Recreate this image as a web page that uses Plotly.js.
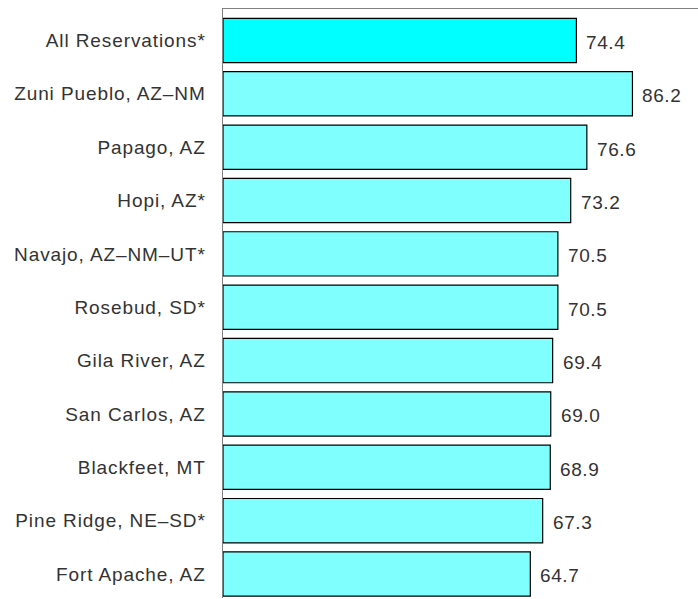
<!DOCTYPE html>
<html><head><meta charset="utf-8">
<script src="https://cdn.plot.ly/plotly-3.0.1.min.js"></script>
<style>
html,body{margin:0;padding:0;background:#fff}
.ytick text{letter-spacing:0.9px}
.annotation-text{letter-spacing:0.6px}
</style>
</head><body>
<div id="chart" style="width:698px;height:599px"></div>
<script>
var categories = ["All Reservations*","Zuni Pueblo, AZ\u2013NM","Papago, AZ","Hopi, AZ*","Navajo, AZ\u2013NM\u2013UT*","Rosebud, SD*","Gila River, AZ","San Carlos, AZ","Blackfeet, MT","Pine Ridge, NE\u2013SD*","Fort Apache, AZ"];
var values = [74.4, 86.2, 76.6, 73.2, 70.5, 70.5, 69.4, 69.0, 68.9, 67.3, 64.7];
var valueLabels = ["74.4","86.2","76.6","73.2","70.5","70.5","69.4","69.0","68.9","67.3","64.7"];
var colors = values.map(function(v,i){ return i===0 ? "#00FFFF" : "#80FFFF"; });

var trace = {
  type: "bar", orientation: "h",
  x: values, y: categories,
  marker: {color: colors, line: {color: "#000", width: 1.2}},
  width: 0.83,
  hoverinfo: "none"
};
var annotations = values.map(function(v,i){
  return {x: v, y: categories[i], xref: "x", yref: "y", text: valueLabels[i],
    showarrow: false, xanchor: "left", xshift: 8, yshift: -2,
    font: {family: "Liberation Sans, Arial, sans-serif", size: 19, color: "#333"}};
});
var layout = {
  width: 698, height: 599,
  margin: {l: 223, r: 0, t: 9, b: 1, pad: 0},
  paper_bgcolor: "#fff", plot_bgcolor: "#fff",
  showlegend: false,
  bargap: 0.17,
  xaxis: {range: [0, 100], side: "top", showline: true, linecolor: "#808080", linewidth: 1.5,
    showticklabels: false, ticks: "", showgrid: false, zeroline: false, fixedrange: true},
  yaxis: {type: "category", range: [10.45, -0.59], showline: true, linecolor: "#808080", linewidth: 1.5,
    ticks: "", showgrid: false, zeroline: false, ticklabelstandoff: 12,
    tickfont: {family: "Liberation Sans, Arial, sans-serif", size: 19, color: "#333"}},
  annotations: annotations
};
Plotly.newPlot("chart", [trace], layout, {displayModeBar: false, staticPlot: true});
</script>
</body></html>
